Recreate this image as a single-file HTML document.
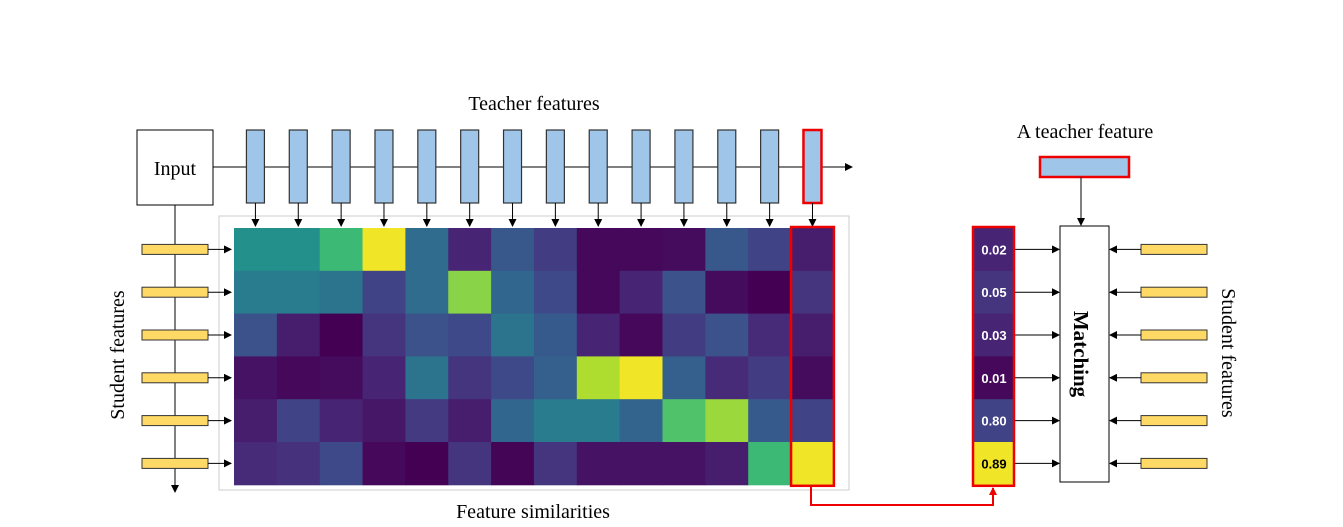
<!DOCTYPE html>
<html><head><meta charset="utf-8">
<style>body{margin:0;background:#fff}svg{display:block}text{font-family:"Liberation Serif",serif}</style>
</head><body>
<svg id="s" width="1343" height="527" viewBox="0 0 1343 527" xmlns="http://www.w3.org/2000/svg">
<defs><marker id="ah" markerWidth="8" markerHeight="8" refX="7" refY="4" orient="auto" markerUnits="userSpaceOnUse"><path d="M0,0 L8,4 L0,8 z" fill="#000"/></marker>
<marker id="ahr" markerWidth="8" markerHeight="8" refX="7" refY="4" orient="auto" markerUnits="userSpaceOnUse"><path d="M0,0 L8,4 L0,8 z" fill="#e00"/></marker></defs>
<text x="534" y="110" font-size="20" text-anchor="middle">Teacher features</text>
<text x="1085" y="138" font-size="20" text-anchor="middle">A teacher feature</text>
<text x="533" y="518" font-size="20" text-anchor="middle">Feature similarities</text>
<text transform="translate(124,355) rotate(-90)" font-size="20" text-anchor="middle">Student features</text>
<text transform="translate(1222,353) rotate(90)" font-size="20" text-anchor="middle">Student features</text>
<rect x="137" y="130" width="76" height="75" fill="#fff" stroke="#000"/>
<text x="175" y="175" font-size="20" text-anchor="middle">Input</text>
<line x1="213" y1="167" x2="852" y2="167" stroke="#000" marker-end="url(#ah)"/>
<line x1="175" y1="205" x2="175" y2="492" stroke="#000" marker-end="url(#ah)"/>
<rect x="219" y="216" width="630" height="274" fill="#fff" stroke="#ccc"/>
<g id="g"></g>
<rect x="1040" y="157" width="89" height="20" fill="#9fc5e8" stroke="#e00" stroke-width="2.5"/>
<line x1="1081" y1="177" x2="1081" y2="225" stroke="#000" marker-end="url(#ah)"/>
<rect x="1060" y="226" width="49" height="256" fill="#fff" stroke="#000"/>
<text transform="translate(1074,354) rotate(90)" font-size="21" font-weight="bold" text-anchor="middle">Matching</text>
<path d="M811,487 V505 H993 V488" fill="none" stroke="#e00" stroke-width="2" marker-end="url(#ahr)"/>
</svg>
<script>
const rowValues=[
[.5,.5,.68,.98,.35,.1,.27,.18,.02,.02,.03,.27,.2,.08],
[.42,.42,.38,.2,.35,.82,.33,.22,.02,.1,.25,.03,0,.15],
[.25,.08,0,.15,.25,.22,.38,.28,.1,.02,.18,.25,.12,.08],
[.05,.02,.03,.1,.38,.15,.22,.3,.88,.98,.3,.12,.18,.03],
[.08,.2,.1,.06,.17,.08,.33,.42,.42,.32,.72,.85,.28,.2],
[.12,.14,.22,.02,0,.15,.01,.15,.05,.05,.05,.08,.68,.98]];
const matchLabels=["0.02","0.05","0.03","0.01","0.80","0.89"];
const matchValues=[.1,.15,.1,.02,.2,.98];
const V=[[68,1,84],[72,40,120],[62,74,137],[49,104,142],[38,130,142],[31,158,137],[53,183,121],[109,205,89],[180,222,44],[253,231,37]];
function vir(t){t=Math.max(0,Math.min(1,t))*9;const i=Math.min(8,Math.floor(t)),f=t-i;const c=V[i].map((a,k)=>Math.round(a+(V[i+1][k]-a)*f));return `rgb(${c})`;}
const NS="http://www.w3.org/2000/svg",g=document.getElementById('g');
function mk(tag,at){const e=document.createElementNS(NS,tag);for(const k in at)e.setAttribute(k,at[k]);g.appendChild(e);return e;}
const x0=234,cw=42.85,y0=228,rh=42.8,nc=rowValues[0].length,nr=rowValues.length;
const xs=c=>x0+c*cw, ys=r=>y0+r*rh;
for(let r=0;r<nr;r++)for(let c=0;c<nc;c++){
 const e=mk('rect',{x:xs(c),y:ys(r),width:cw+0.5,height:rh+0.5,fill:vir(rowValues[r][c])});
 
 }
for(let c=0;c<nc;c++){const cx=xs(c)+cw/2;
 const b=mk('rect',{x:cx-9,y:130,width:18,height:73,fill:'#9fc5e8',stroke:c==nc-1?'#e00':'#333','stroke-width':c==nc-1?2.5:1.2});
 
 
 const a=mk('line',{x1:cx,y1:203,x2:cx,y2:226,stroke:'#000','marker-end':'url(#ah)'});
 
 }
const hl=mk('rect',{x:xs(nc-1),y:y0-1,width:cw,height:nr*rh+2,fill:'none',stroke:'#e00','stroke-width':2.5});


for(let r=0;r<nr;r++){const cy=ys(r)+rh/2;
 const s=mk('rect',{x:142,y:cy-5,width:66,height:10,fill:'#ffd966',stroke:'#333'});
 
 
 const a=mk('line',{x1:208,y1:cy,x2:231,y2:cy,stroke:'#000','marker-end':'url(#ah)'});
 
 
 const my=y0+r*rh;
 const m=mk('rect',{x:974,y:my,width:40,height:rh+0.5,fill:vir(matchValues[r])});
 
 
 const t=mk('text',{x:994,y:my+rh/2+5,'font-size':13,'font-weight':'bold','text-anchor':'middle',fill:matchValues[r]>.6?'#000':'#fff',style:'font-family:"Liberation Sans",sans-serif'});
 t.textContent=matchLabels[r];
 
 
 const a2=mk('line',{x1:1014,y1:cy,x2:1059,y2:cy,stroke:'#000','marker-end':'url(#ah)'});
 
 
 const s2=mk('rect',{x:1141,y:cy-5,width:66,height:10,fill:'#ffd966',stroke:'#333'});
 
 
 const a3=mk('line',{x1:1141,y1:cy,x2:1110,y2:cy,stroke:'#000','marker-end':'url(#ah)'});
 
 }
const mb=mk('rect',{x:973,y:y0-1,width:41,height:nr*rh+2,fill:'none',stroke:'#e00','stroke-width':2.5});


</script>
</body></html>
